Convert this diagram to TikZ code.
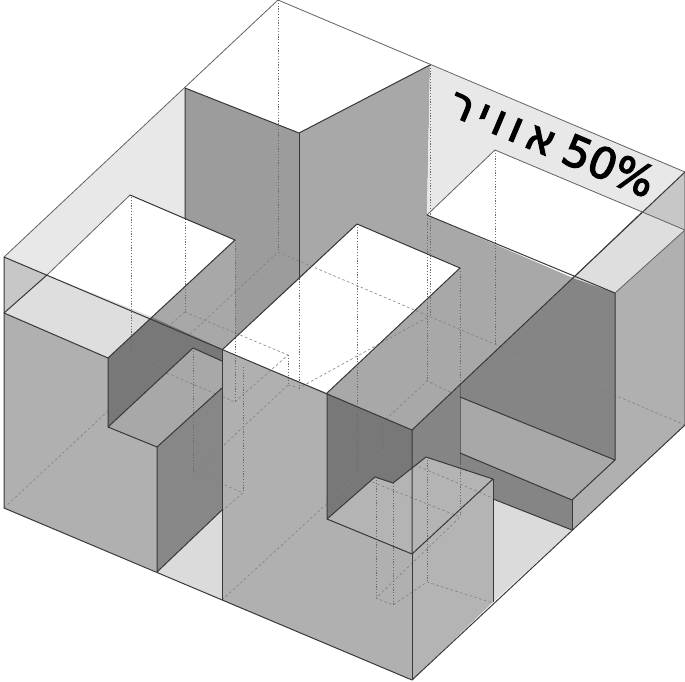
\documentclass[tikz,border=0pt]{standalone}
\usepackage{fontspec}
\newfontfamily\hebfont[Script=Hebrew,FakeBold=3]{DejaVu Sans}
\TeXXeTstate=1
\definecolor{airlight}{gray}{.91}
\definecolor{tinta}{gray}{.78}
\definecolor{tintb}{gray}{.87}
\definecolor{faceA}{gray}{.61}
\definecolor{faceB}{gray}{.66}
\definecolor{faceC}{gray}{.69}
\definecolor{faceD}{gray}{.47}
\definecolor{faceE}{gray}{.53}
\definecolor{floorl}{gray}{.86}
\newcommand{\ltr}{\kern6.5pt}
\tikzset{
  solid edge/.style={draw=black!78,line width=1pt,line join=round},
  soft edge/.style={draw=black!62,line width=.8pt,line join=round},
  hidden v/.style={draw=black!58,line width=.55pt,dash pattern=on 1.2pt off 1.6pt},
  hidden f/.style={draw=black!50,line width=.6pt,dash pattern=on 2.6pt off 2.4pt},
}
\begin{document}
\begin{tikzpicture}[x=1pt,y=-1pt]
\useasboundingbox (0,0) rectangle (685,681);
% faces
\fill[airlight] (185,88)--(4,257)--(47,275)--(130,195)--(185,219)--cycle;
\fill[tinta] (4,257)--(47,275)--(4,313)--cycle;
\fill[tintb] (47,275)--(152,317)--(108,358)--(4,313)--cycle;
\fill[faceA] (185,88)--(299,133)--(299,279)--(235,338)--(235,240)--(185,219)--cycle;
\fill[faceB] (430,65)--(299,133)--(299,279)--(357,224)--(460,268)--(327,393)--(412,430)--(460,385)--(573,278)--(427,215)--cycle;
\fill[faceB] (152,317)--(235,240)--(235,338)--(222,350)--cycle;
\fill[airlight] (430,65)--(685,172)--(642,212)--(495,150)--(427,215)--cycle;
\fill[tinta] (685,172)--(642,212)--(685,230)--cycle;
\fill[tintb] (642,212)--(685,230)--(615,293)--(573,278)--cycle;
\fill[faceC] (685,230)--(615,293)--(615,460)--(572,500)--(572,530)--(685,425)--cycle;
\fill[faceD!90!white] (573,278)--(615,293)--(615,460)--(460,397)--(460,385)--cycle;
\fill[faceB] (460,397)--(615,460)--(572,500)--(460,453)--cycle;
\fill[faceD!90!white] (412,430)--(460,385)--(460,453)--(572,500)--(572,530)--(493,499)--(493,479)--(426,457)--(393,483)--cycle;
\fill[faceD] (327,393)--(412,430)--(412,467)--(393,483)--(375,477)--(327,519)--cycle;
\fill[faceC!95!white] (327,519)--(412,554)--(493,479)--(426,457)--(393,483)--(375,477)--cycle;
\fill[faceC!95!white] (412,554)--(493,479)--(493,602)--(412,680)--cycle;
\fill[floorl] (493,500)--(572,530)--(493,602)--cycle;
\fill[faceC] (222,350)--(327,393)--(327,519)--(412,554)--(412,680)--(222,600)--cycle;
\fill[faceC] (4,313)--(108,358)--(108,427)--(157,447)--(157,572)--(4,508)--cycle;
\fill[faceD] (152,317)--(222,349)--(222,361)--(193,348)--(108,427)--(108,358)--cycle;
\fill[faceB] (108,427)--(193,348)--(222,361)--(222,388)--(157,447)--cycle;
\fill[faceE] (157,447)--(222,388)--(222,510)--(157,572)--cycle;
\fill[floorl] (157,572)--(222,510)--(222,600)--cycle;
% hidden verticals
\draw[hidden v] (278,0)--(278,252);
\draw[hidden v] (131,197)--(131,358);
\draw[hidden v] (185,219)--(185,312);
\draw[hidden v] (235,240)--(235,402);
\draw[hidden v] (243,367)--(243,493);
\draw[hidden v] (193,348)--(193,472);
\draw[hidden v] (288,355)--(288,385);
\draw[hidden v] (299,133)--(299,388);
\draw[hidden v] (357,224)--(357,476);
\draw[hidden v] (430,65)--(430,316);
\draw[hidden v] (427,215)--(427,381);
\draw[hidden v] (460,268)--(460,515);
\draw[hidden v] (495,150)--(495,345);
\draw[hidden v] (382,423)--(382,451);
\draw[hidden v] (376,480)--(376,598);
\draw[hidden v] (393,483)--(393,605);
\draw[hidden v] (427,457)--(427,582);
% hidden floor lines
\draw[hidden f] (4,508)--(278,252)--(685,425);
\draw[hidden f] (185,312)--(131,358)--(235,402);
\draw[hidden f] (185,312)--(288,355)--(235,402);
\draw[hidden f] (288,385)--(195,472)--(243,493)--(222,511);
\draw[hidden f] (288,385)--(299,388)--(430,316);
\draw[hidden f] (222,600)--(357,476)--(460,517)--(376,598)--(393,605)--(427,582)--(493,603);
\draw[hidden f] (382,423)--(427,381)--(460,397);
\draw[hidden f] (382,451)--(493,498);
% visible edges
\draw[soft edge] (130,195)--(47,275);
\draw[soft edge] (642,212)--(573,278);
\draw[soft edge] (4,257)--(278,0)--(685,172);
\draw[solid edge] (685,172)--(412,430);
\draw[solid edge] (4,257)--(412,430);
\draw[solid edge] (685,172)--(685,425)--(412,680)--(4,508)--(4,257);
\draw[solid edge] (430,65)--(299,133)--(185,88)--(185,219);
\draw[solid edge] (299,133)--(299,279);
\draw[solid edge] (130,195)--(235,240)--(108,358)--(4,313);
\draw[solid edge] (47,275)--(4,313);
\draw[solid edge] (108,358)--(108,427)--(157,447)--(157,572);
\draw[solid edge] (108,427)--(193,348)--(222,361);
\draw[solid edge] (157,447)--(222,388);
\draw[solid edge] (157,572)--(222,510);
\draw[solid edge] (222,350)--(222,600);
\draw[solid edge] (222,350)--(357,224)--(460,268)--(327,393);
\draw[solid edge] (327,393)--(327,519)--(412,554)--(412,430);
\draw[solid edge] (412,554)--(412,680);
\draw[solid edge] (327,519)--(375,477)--(393,483)--(426,457)--(493,479)--(412,554);
\draw[solid edge] (493,479)--(493,602);
\draw[soft edge] (460,385)--(460,465);
\draw[soft edge] (495,150)--(427,215);
\draw[solid edge] (427,215)--(615,293)--(615,460);
\draw[soft edge] (495,150)--(685,230)--(615,293);
\draw[solid edge] (460,397)--(615,460)--(572,500)--(460,453);
\draw[solid edge] (572,500)--(572,530);
\draw[solid edge] (493,499)--(572,530);
% label
\node[rotate=-22.9,inner sep=0pt] (label) at (552.5,141.5) {\hebfont\fontsize{43}{43}\selectfont\beginR\beginL 50\%\endL\kern11pt א\ltr ו\ltr ו\ltr י\ltr ר\endR};
\end{tikzpicture}
\end{document}
